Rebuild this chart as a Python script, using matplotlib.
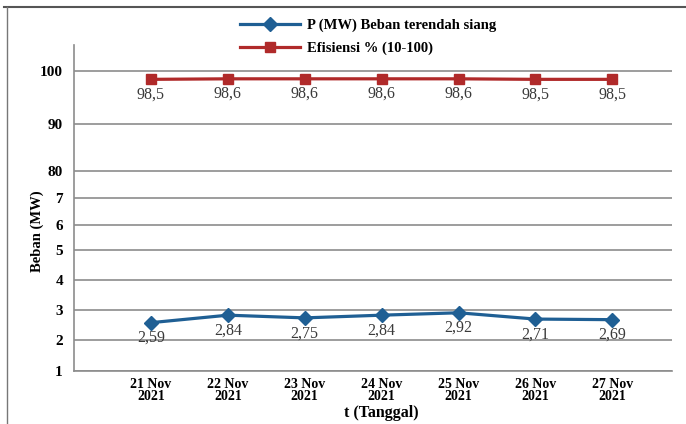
import numpy as np
import matplotlib
import matplotlib.pyplot as plt
from matplotlib.lines import Line2D

matplotlib.use("Agg")

# Data
dates = ["21 Nov\n2021", "22 Nov\n2021", "23 Nov\n2021", "24 Nov\n2021",
         "25 Nov\n2021", "26 Nov\n2021", "27 Nov\n2021"]
beban_mw = [2.59, 2.84, 2.75, 2.84, 2.92, 2.71, 2.69]
efisiensi = [98.5, 98.6, 98.6, 98.6, 98.6, 98.5, 98.5]
beban_labels = ["2,59", "2,84", "2,75", "2,84", "2,92", "2,71", "2,69"]
efisiensi_labels = ["98,5", "98,6", "98,6", "98,6", "98,6", "98,5", "98,5"]
y_ticks = [1, 2, 3, 4, 5, 6, 7, 80, 90, 100]

# Broken y axis: tick values mapped onto uneven screen spacing
knot_vals = np.array([1, 2, 3, 4, 5, 6, 7, 80, 90, 100, 105])
knot_pos = np.array([0, 30.4, 60.4, 90.7, 120.7, 146, 173, 200, 246.7, 299.7, 326.2])


def forward(v):
    return np.interp(v, knot_vals, knot_pos)


def inverse(p):
    return np.interp(p, knot_pos, knot_vals)


plt.rcParams["font.family"] = ["Liberation Serif", "DejaVu Serif"]

BLUE = "#1F5F94"
RED = "#B02A2A"
GRID = "#8C8C8C"

fig = plt.figure(figsize=(6.86, 4.24), dpi=100)
ax = fig.add_axes([0.1079, 0.1257, 0.871, 0.7683])
ax.set_yscale("function", functions=(forward, inverse))

x = np.arange(1, len(dates) + 1)
ax.plot(x, beban_mw, color=BLUE, lw=2.3, marker="D", ms=7, zorder=3,
        label="P (MW) Beban terendah siang")
ax.plot(x, efisiensi, color=RED, lw=2.3, marker="s", ms=6.5, zorder=3,
        label="Efisiensi % (10-100)")

for xi, v, lab in zip(x, beban_mw, beban_labels):
    ax.annotate(lab, (xi, v), xytext=(0, -11), textcoords="offset points",
                ha="center", va="center", fontsize=11.5, color="#3a3a3a")
for xi, v, lab in zip(x, efisiensi, efisiensi_labels):
    ax.annotate(lab, (xi, v), xytext=(0, -11), textcoords="offset points",
                ha="center", va="center", fontsize=11.5, color="#3a3a3a")

ax.set_xlim(0, 7.77)
ax.set_ylim(1, 105)
ax.set_yticks(y_ticks)
ax.set_yticklabels([str(t) for t in y_ticks], fontsize=11, fontweight="bold")
ax.set_xticks(x)
ax.set_xticklabels(dates, fontsize=10, fontweight="bold", linespacing=0.95)
ax.tick_params(length=0, pad=8)
ax.tick_params(axis="x", pad=5)

ax.grid(axis="y", color=GRID, lw=1.2)
for side in ["top", "right"]:
    ax.spines[side].set_visible(False)
ax.spines["left"].set_color(GRID)
ax.spines["bottom"].set_color(GRID)
ax.spines["left"].set_linewidth(1.2)
ax.spines["bottom"].set_linewidth(1.2)

fig.text(37 / 686, 1 - 231 / 424, "Beban (MW)", rotation=90, ha="center",
         va="center", fontsize=10.5, fontweight="bold")
fig.text(381 / 686, 1 - 413 / 424, "t (Tanggal)", ha="center", va="center",
         fontsize=11.5, fontweight="bold")

fig.legend(loc="center left", bbox_to_anchor=(240 / 686, 1 - 37 / 424),
           frameon=False, borderaxespad=0, borderpad=0, handlelength=4.1,
           handletextpad=0.5, labelspacing=0.65,
           prop={"size": 10.5, "weight": "bold"})

# Outer frame: top and left edges only
fig.add_artist(Line2D([4 / 686, 1], [1 - 7 / 424, 1 - 7 / 424],
                      transform=fig.transFigure, color="#555555", lw=1.5))
fig.add_artist(Line2D([6.5 / 686, 6.5 / 686], [0, 1 - 7 / 424],
                      transform=fig.transFigure, color="#777777", lw=1.0))

fig.savefig("out.png", dpi=100)
